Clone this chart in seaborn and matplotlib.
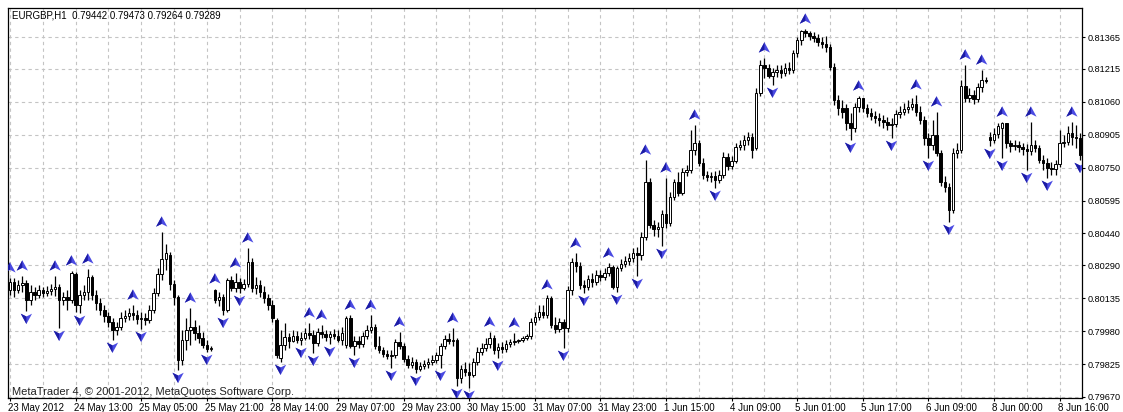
import matplotlib
matplotlib.use("Agg")
import matplotlib.pyplot as plt
import matplotlib.transforms as mtransforms
from matplotlib.path import Path
import numpy as np
import pandas as pd
import seaborn as sns

# ---------------- EURGBP H1 bars ----------------
opens = [
    0.80174, 0.80212, 0.80174, 0.80198, 0.80207, 0.80127, 0.80165, 0.80151, 0.80174, 0.80160,
    0.80169, 0.80179, 0.80188, 0.80127, 0.80141, 0.80127, 0.80250, 0.80103, 0.80151, 0.80165,
    0.80235, 0.80151, 0.80113, 0.80080, 0.80052, 0.80023, 0.79986, 0.80000, 0.80042, 0.80052,
    0.80066, 0.80056, 0.80038, 0.80042, 0.80033, 0.80080, 0.80160, 0.80250, 0.80320, 0.80339,
    0.80202, 0.80141, 0.79844, 0.79939, 0.79986, 0.80000, 0.79972, 0.79948, 0.79915, 0.79896,
    0.80174, 0.80127, 0.80141, 0.80080, 0.80221, 0.80184, 0.80212, 0.80184, 0.80202, 0.80306,
    0.80184, 0.80198, 0.80165, 0.80136, 0.80103, 0.80033, 0.79854, 0.79915, 0.79953, 0.79934,
    0.79957, 0.79939, 0.79948, 0.79972, 0.79962, 0.79925, 0.79976, 0.79967, 0.79953, 0.79967,
    0.79957, 0.79939, 0.79915, 0.80042, 0.79910, 0.79934, 0.79920, 0.79957, 0.79986, 0.80000,
    0.79910, 0.79892, 0.79873, 0.79863, 0.79868, 0.79929, 0.79910, 0.79849, 0.79821, 0.79835,
    0.79802, 0.79816, 0.79826, 0.79835, 0.79844, 0.79868, 0.79910, 0.79943, 0.79934, 0.79939,
    0.79760, 0.79802, 0.79788, 0.79774, 0.79835, 0.79882, 0.79901, 0.79920, 0.79948, 0.79892,
    0.79906, 0.79896, 0.79920, 0.79929, 0.79934, 0.79939, 0.79948, 0.79957, 0.80023, 0.80047,
    0.80071, 0.80056, 0.80136, 0.80009, 0.79990, 0.80023, 0.79995, 0.80174, 0.80306, 0.80287,
    0.80198, 0.80188, 0.80226, 0.80212, 0.80245, 0.80235, 0.80254, 0.80282, 0.80188, 0.80278,
    0.80297, 0.80311, 0.80325, 0.80348, 0.80339, 0.80424, 0.80683, 0.80480, 0.80461, 0.80471,
    0.80532, 0.80490, 0.80612, 0.80683, 0.80631, 0.80730, 0.80739, 0.80834, 0.80867, 0.80772,
    0.80716, 0.80707, 0.80711, 0.80692, 0.80716, 0.80801, 0.80758, 0.80782, 0.80848, 0.80857,
    0.80881, 0.80895, 0.80843, 0.81102, 0.81234, 0.81220, 0.81182, 0.81201, 0.81210, 0.81196,
    0.81220, 0.81210, 0.81290, 0.81352, 0.81394, 0.81385, 0.81370, 0.81361, 0.81342, 0.81333,
    0.81319, 0.81224, 0.81069, 0.81031, 0.81031, 0.80961, 0.80937, 0.81036, 0.81078, 0.81031,
    0.81008, 0.80994, 0.80984, 0.80975, 0.80965, 0.80951, 0.80956, 0.81003, 0.81013, 0.81027,
    0.81036, 0.81050, 0.81013, 0.80975, 0.80890, 0.80857, 0.80904, 0.80819, 0.80683, 0.80659,
    0.80551, 0.80819, 0.80834, 0.81135, 0.81078, 0.81093, 0.81074, 0.81130, 0.81163, 0.80895,
    0.80881, 0.80909, 0.80937, 0.80961, 0.80867, 0.80852, 0.80857, 0.80848, 0.80838, 0.80829,
    0.80857, 0.80843, 0.80786, 0.80772, 0.80749, 0.80744, 0.80768, 0.80867, 0.80871, 0.80914,
    0.80895, 0.80890,
]
highs = [
    0.80231, 0.80231, 0.80221, 0.80240, 0.80221, 0.80198, 0.80188, 0.80198, 0.80188, 0.80193,
    0.80202, 0.80240, 0.80202, 0.80165, 0.80174, 0.80264, 0.80259, 0.80174, 0.80198, 0.80273,
    0.80245, 0.80174, 0.80136, 0.80103, 0.80071, 0.80042, 0.80023, 0.80071, 0.80080, 0.80089,
    0.80103, 0.80080, 0.80071, 0.80066, 0.80103, 0.80184, 0.80278, 0.80447, 0.80391, 0.80353,
    0.80221, 0.80151, 0.79986, 0.80042, 0.80089, 0.80033, 0.80009, 0.79976, 0.79939, 0.79910,
    0.80179, 0.80165, 0.80155, 0.80231, 0.80240, 0.80254, 0.80231, 0.80226, 0.80372, 0.80325,
    0.80235, 0.80221, 0.80193, 0.80155, 0.80127, 0.80042, 0.79986, 0.80019, 0.79972, 0.79986,
    0.79981, 0.79976, 0.79995, 0.80019, 0.79986, 0.79995, 0.80009, 0.79986, 0.79981, 0.79990,
    0.79986, 0.80000, 0.80052, 0.80056, 0.79957, 0.79957, 0.79976, 0.80009, 0.80056, 0.80014,
    0.79957, 0.79906, 0.79892, 0.79892, 0.79943, 0.79976, 0.79925, 0.79868, 0.79859, 0.79849,
    0.79835, 0.79844, 0.79854, 0.79868, 0.79882, 0.79925, 0.79962, 0.79972, 0.79995, 0.79948,
    0.79821, 0.79835, 0.79830, 0.79854, 0.79906, 0.79925, 0.79948, 0.79976, 0.79962, 0.79925,
    0.79929, 0.79939, 0.79943, 0.79972, 0.79943, 0.79957, 0.79967, 0.80042, 0.80071, 0.80103,
    0.80103, 0.80151, 0.80146, 0.80047, 0.80042, 0.80038, 0.80193, 0.80325, 0.80348, 0.80306,
    0.80221, 0.80245, 0.80254, 0.80268, 0.80268, 0.80278, 0.80301, 0.80292, 0.80287, 0.80320,
    0.80334, 0.80348, 0.80372, 0.80377, 0.80447, 0.80786, 0.80702, 0.80504, 0.80494, 0.80551,
    0.80702, 0.80636, 0.80697, 0.80730, 0.80749, 0.80763, 0.80928, 0.80951, 0.80881, 0.80796,
    0.80735, 0.80730, 0.80735, 0.80739, 0.80824, 0.80819, 0.80805, 0.80867, 0.80881, 0.80904,
    0.80918, 0.80914, 0.81126, 0.81257, 0.81267, 0.81239, 0.81220, 0.81234, 0.81234, 0.81243,
    0.81248, 0.81305, 0.81366, 0.81399, 0.81403, 0.81394, 0.81389, 0.81380, 0.81366, 0.81370,
    0.81333, 0.81243, 0.81093, 0.81069, 0.81050, 0.81008, 0.81055, 0.81088, 0.81078, 0.81050,
    0.81031, 0.81017, 0.81008, 0.80998, 0.80989, 0.80984, 0.81022, 0.81041, 0.81055, 0.81069,
    0.81078, 0.81093, 0.81041, 0.80994, 0.80914, 0.80975, 0.81013, 0.80834, 0.80711, 0.80678,
    0.80843, 0.80867, 0.81163, 0.81234, 0.81126, 0.81116, 0.81149, 0.81210, 0.81177, 0.80918,
    0.80937, 0.80961, 0.80965, 0.80961, 0.80881, 0.80881, 0.80876, 0.80867, 0.80862, 0.80965,
    0.80881, 0.80857, 0.80810, 0.80796, 0.80777, 0.80786, 0.80928, 0.80904, 0.80947, 0.80965,
    0.80951, 0.80914,
]
lows = [
    0.80151, 0.80141, 0.80160, 0.80165, 0.80075, 0.80103, 0.80127, 0.80136, 0.80141, 0.80146,
    0.80151, 0.80146, 0.79995, 0.80103, 0.80080, 0.80113, 0.80071, 0.80066, 0.80127, 0.80127,
    0.80127, 0.80080, 0.80056, 0.80023, 0.80000, 0.79939, 0.79962, 0.79986, 0.80023, 0.80033,
    0.80033, 0.80014, 0.79990, 0.80009, 0.80019, 0.80066, 0.80146, 0.80221, 0.80268, 0.80174,
    0.80103, 0.79797, 0.79821, 0.79892, 0.79915, 0.79939, 0.79925, 0.79901, 0.79882, 0.79887,
    0.80113, 0.80099, 0.80056, 0.80071, 0.80169, 0.80165, 0.80160, 0.80174, 0.80188, 0.80165,
    0.80155, 0.80141, 0.80113, 0.80080, 0.80023, 0.79854, 0.79835, 0.79892, 0.79901, 0.79929,
    0.79925, 0.79915, 0.79939, 0.79943, 0.79877, 0.79910, 0.79948, 0.79934, 0.79920, 0.79943,
    0.79929, 0.79915, 0.79901, 0.79901, 0.79868, 0.79901, 0.79906, 0.79943, 0.79972, 0.79896,
    0.79877, 0.79859, 0.79849, 0.79807, 0.79854, 0.79896, 0.79835, 0.79807, 0.79807, 0.79783,
    0.79793, 0.79802, 0.79807, 0.79821, 0.79830, 0.79807, 0.79896, 0.79920, 0.79910, 0.79722,
    0.79736, 0.79769, 0.79713, 0.79764, 0.79821, 0.79868, 0.79887, 0.79901, 0.79873, 0.79854,
    0.79877, 0.79882, 0.79906, 0.79915, 0.79925, 0.79929, 0.79939, 0.79943, 0.80009, 0.80033,
    0.80042, 0.80042, 0.79995, 0.79972, 0.79976, 0.79901, 0.79976, 0.80151, 0.80259, 0.80179,
    0.80160, 0.80174, 0.80188, 0.80198, 0.80217, 0.80221, 0.80240, 0.80179, 0.80165, 0.80264,
    0.80282, 0.80292, 0.80306, 0.80240, 0.80315, 0.80410, 0.80466, 0.80428, 0.80424, 0.80381,
    0.80466, 0.80476, 0.80598, 0.80617, 0.80622, 0.80711, 0.80725, 0.80810, 0.80758, 0.80697,
    0.80688, 0.80683, 0.80655, 0.80678, 0.80702, 0.80739, 0.80744, 0.80772, 0.80834, 0.80834,
    0.80857, 0.80796, 0.80834, 0.81088, 0.81173, 0.81173, 0.81140, 0.81177, 0.81173, 0.81182,
    0.81192, 0.81196, 0.81272, 0.81328, 0.81366, 0.81352, 0.81342, 0.81323, 0.81314, 0.81295,
    0.81210, 0.81045, 0.80998, 0.80984, 0.80928, 0.80881, 0.80918, 0.81013, 0.81013, 0.80989,
    0.80975, 0.80961, 0.80947, 0.80937, 0.80928, 0.80890, 0.80942, 0.80984, 0.80998, 0.81008,
    0.81022, 0.80994, 0.80956, 0.80857, 0.80796, 0.80834, 0.80805, 0.80664, 0.80636, 0.80494,
    0.80537, 0.80796, 0.80819, 0.81060, 0.81060, 0.81050, 0.81060, 0.81107, 0.81149, 0.80852,
    0.80867, 0.80890, 0.80796, 0.80843, 0.80824, 0.80834, 0.80824, 0.80810, 0.80739, 0.80810,
    0.80824, 0.80772, 0.80739, 0.80702, 0.80716, 0.80716, 0.80753, 0.80848, 0.80857, 0.80857,
    0.80843, 0.80786,
]
closes = [
    0.80212, 0.80174, 0.80198, 0.80207, 0.80127, 0.80165, 0.80151, 0.80174, 0.80160, 0.80169,
    0.80179, 0.80188, 0.80127, 0.80141, 0.80127, 0.80254, 0.80103, 0.80151, 0.80165, 0.80235,
    0.80151, 0.80113, 0.80080, 0.80052, 0.80023, 0.79986, 0.80000, 0.80042, 0.80052, 0.80066,
    0.80056, 0.80038, 0.80042, 0.80033, 0.80080, 0.80160, 0.80250, 0.80320, 0.80348, 0.80202,
    0.80141, 0.79844, 0.79939, 0.79986, 0.80000, 0.79972, 0.79948, 0.79915, 0.79896, 0.79901,
    0.80127, 0.80141, 0.80080, 0.80221, 0.80184, 0.80212, 0.80184, 0.80202, 0.80306, 0.80184,
    0.80198, 0.80165, 0.80136, 0.80103, 0.80042, 0.79868, 0.79915, 0.79953, 0.79934, 0.79957,
    0.79939, 0.79948, 0.79972, 0.79962, 0.79925, 0.79976, 0.79967, 0.79953, 0.79967, 0.79957,
    0.79939, 0.79972, 0.80042, 0.79910, 0.79934, 0.79920, 0.79957, 0.79986, 0.80000, 0.79910,
    0.79892, 0.79873, 0.79863, 0.79868, 0.79929, 0.79910, 0.79849, 0.79821, 0.79835, 0.79802,
    0.79816, 0.79826, 0.79835, 0.79844, 0.79868, 0.79910, 0.79943, 0.79934, 0.79939, 0.79760,
    0.79802, 0.79788, 0.79774, 0.79835, 0.79882, 0.79901, 0.79920, 0.79948, 0.79892, 0.79906,
    0.79896, 0.79920, 0.79929, 0.79934, 0.79939, 0.79948, 0.79957, 0.80023, 0.80047, 0.80071,
    0.80056, 0.80136, 0.80009, 0.79990, 0.80023, 0.79995, 0.80174, 0.80306, 0.80287, 0.80198,
    0.80188, 0.80226, 0.80212, 0.80245, 0.80235, 0.80254, 0.80282, 0.80188, 0.80278, 0.80297,
    0.80311, 0.80325, 0.80348, 0.80339, 0.80424, 0.80683, 0.80480, 0.80461, 0.80471, 0.80532,
    0.80490, 0.80612, 0.80683, 0.80631, 0.80730, 0.80739, 0.80834, 0.80867, 0.80772, 0.80716,
    0.80707, 0.80711, 0.80692, 0.80716, 0.80801, 0.80758, 0.80782, 0.80848, 0.80857, 0.80881,
    0.80895, 0.80834, 0.81102, 0.81234, 0.81220, 0.81182, 0.81201, 0.81210, 0.81196, 0.81220,
    0.81210, 0.81290, 0.81352, 0.81394, 0.81385, 0.81370, 0.81361, 0.81342, 0.81333, 0.81319,
    0.81224, 0.81069, 0.81031, 0.81013, 0.80961, 0.80937, 0.81036, 0.81078, 0.81031, 0.81008,
    0.80994, 0.80984, 0.80975, 0.80965, 0.80951, 0.80956, 0.81003, 0.81013, 0.81027, 0.81036,
    0.81050, 0.81013, 0.80975, 0.80890, 0.80857, 0.80904, 0.80819, 0.80683, 0.80659, 0.80551,
    0.80819, 0.80834, 0.81135, 0.81078, 0.81093, 0.81074, 0.81130, 0.81163, 0.81159, 0.80881,
    0.80909, 0.80947, 0.80961, 0.80867, 0.80852, 0.80857, 0.80848, 0.80838, 0.80829, 0.80857,
    0.80843, 0.80786, 0.80772, 0.80749, 0.80744, 0.80768, 0.80867, 0.80871, 0.80914, 0.80895,
    0.80890, 0.80810,
]

# Bill Williams fractals (bar numbers)
fractal_up = [0, 3, 11, 15, 19, 30, 37, 44, 50, 55, 58, 73, 76, 83, 88, 95, 108, 117, 123,
              131, 138, 146, 155, 160, 167, 184, 194, 207, 221, 226, 233, 237, 242, 249, 259]
fractal_down = [4, 12, 17, 25, 32, 41, 48, 52, 56, 66, 71, 74, 78, 84, 93, 99, 105, 109, 112,
                119, 135, 140, 148, 153, 159, 172, 186, 205, 215, 224, 229, 239, 242, 248,
                253, 261]

time_labels = ["23 May 2012", "24 May 13:00", "25 May 05:00", "25 May 21:00", "28 May 14:00",
               "29 May 07:00", "29 May 23:00", "30 May 15:00", "31 May 07:00", "31 May 23:00",
               "1 Jun 15:00", "4 Jun 09:00", "5 Jun 01:00", "5 Jun 17:00", "6 Jun 09:00",
               "8 Jun 00:00", "8 Jun 16:00"]
price_ticks = [0.79670, 0.79825, 0.79980, 0.80135, 0.80290, 0.80440, 0.80595,
               0.80750, 0.80905, 0.81060, 0.81215, 0.81365]

header = "EURGBP,H1  0.79442 0.79473 0.79264 0.79289"
copyright_text = "MetaTrader 4, \u00a9 2001-2012, MetaQuotes Software Corp."

# ---------------- style ----------------
sns.set_style("white")
plt.rcParams["font.family"] = ["Liberation Sans", "DejaVu Sans"]

W, H = 1123, 412
fig = plt.figure(figsize=(W / 100, H / 100), dpi=100)
fig.patch.set_facecolor("white")
ax = fig.add_axes([8 / W, (H - 398) / H, (1082 - 8) / W, (398 - 8) / H])
ax.set_facecolor("white")

df = pd.DataFrame({"open": opens, "high": highs, "low": lows, "close": closes})
df["bar"] = np.arange(len(df))
bull = df["close"] >= df["open"]

# wicks
ax.vlines(df["bar"], df["low"], df["high"], color="black", linewidth=0.9, zorder=2)

# bodies: white for rising bars, black for falling bars
body_w = 0.62
up = df[bull]
dn = df[~bull]
ax.bar(up["bar"], up["close"] - up["open"], bottom=up["open"], width=body_w,
       color="white", edgecolor="black", linewidth=0.7, zorder=3)
ax.bar(dn["bar"], dn["open"] - dn["close"], bottom=dn["close"], width=body_w,
       color="black", edgecolor="black", linewidth=0.7, zorder=3)

# fractal arrow markers: a shaded arrowhead (light right side, dark left side)
codes = [Path.MOVETO, Path.LINETO, Path.LINETO, Path.LINETO, Path.CLOSEPOLY]
full_up = [(0, 0.9), (0.9, -0.75), (0, -0.3), (-0.9, -0.75), (0, 0.9)]
half_up = [(0, 0.9), (-0.9, -0.75), (0, -0.3), (0, 0.9), (0, 0.9)]
arrow_shapes = {
    "up_full": Path(full_up, codes),
    "up_half": Path(half_up, codes),
    "down_full": Path([(x, -y) for x, y in full_up], codes),
    "down_half": Path([(x, -y) for x, y in half_up], codes),
}

up_df = pd.DataFrame({"bar": fractal_up,
                      "price": df.loc[fractal_up, "high"].to_numpy() + 0.00047})
down_df = pd.DataFrame({"bar": fractal_down,
                        "price": df.loc[fractal_down, "low"].to_numpy() - 0.00035})
light_blue, dark_blue = "#4a4ae2", "#1c1ca4"
for data, kind in ((up_df, "up"), (down_df, "down")):
    sns.scatterplot(data=data, x="bar", y="price", marker=arrow_shapes[kind + "_full"],
                    s=66, color=light_blue, edgecolor="none", linewidth=0, ax=ax,
                    zorder=4, legend=False)
    sns.scatterplot(data=data, x="bar", y="price", marker=arrow_shapes[kind + "_half"],
                    s=66, color=dark_blue, edgecolor="none", linewidth=0, ax=ax,
                    zorder=5, legend=False)

# axes limits and ticks
ax.set_xlim(-0.49, 261.46)
ax.set_ylim(0.79665, 0.81502)
ax.set_xlabel("")
ax.set_ylabel("")

label_step = 16
ax.set_xticks(np.arange(len(time_labels)) * label_step)
ax.set_xticklabels(time_labels)
ax.set_xticks(np.arange(label_step // 2, len(df), label_step), minor=True)
ax.set_yticks(price_ticks)
ax.set_yticklabels([f"{v:.5f}" for v in price_ticks])
ax.yaxis.tick_right()

ax.grid(True, which="both", axis="x", color="#c4c4c4", linestyle=(0, (3, 3)), linewidth=0.8)
ax.grid(True, which="major", axis="y", color="#c4c4c4", linestyle=(0, (3, 3)), linewidth=0.8)
ax.set_axisbelow(True)

ax.tick_params(axis="y", which="major", direction="out", length=2.5, width=0.8,
               pad=1.5, labelsize=6.6, colors="black", right=True, left=False)
ax.tick_params(axis="x", which="major", direction="out", length=2.5, width=0.8,
               pad=1.2, labelsize=7, colors="black", bottom=True)
ax.tick_params(axis="x", which="minor", length=0)

shift = mtransforms.ScaledTranslation(-2 / 100, 0, fig.dpi_scale_trans)
for lbl in ax.get_xticklabels():
    lbl.set_horizontalalignment("left")
    lbl.set_transform(lbl.get_transform() + shift)

for sp in ax.spines.values():
    sp.set_visible(True)
    sp.set_color("black")
    sp.set_linewidth(0.9)

fig.text(12 / W, 1 - 16 / H, header, fontsize=7, ha="left", va="center", color="black")
fig.text(12 / W, 1 - 392 / H, copyright_text, fontsize=8, ha="left", va="center",
         color="#222222")

fig.savefig("out.png", dpi=100)
